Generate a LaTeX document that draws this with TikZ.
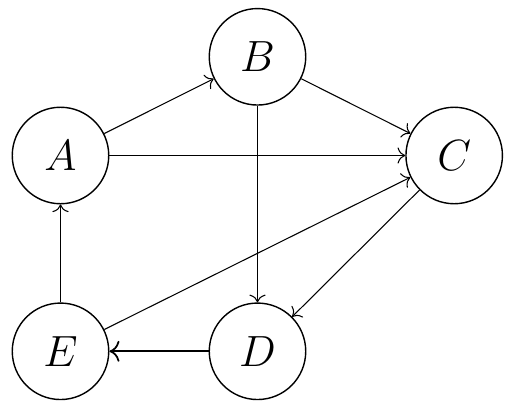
\documentclass[tikz,border=0pt]{standalone}
\usetikzlibrary{arrows.meta}
\begin{document}
\begin{tikzpicture}[x=0.02cm,y=-0.02cm,
  vtx/.style={circle,draw,line width=0.8pt,minimum size=1.93cm,inner sep=0pt,font=\Huge},
  edge/.style={-{To[scale=1.5]},line width=0.6pt}]
\useasboundingbox (0,0) rectangle (512,409);
\node[vtx] (A) at (60.5,155.5) {$A$};
\node[vtx] (B) at (257.5,56.8) {$B$};
\node[vtx] (C) at (454.2,155.5) {$C$};
\node[vtx] (D) at (257.5,351.3) {$D$};
\node[vtx] (E) at (60.5,351.3) {$E$};
\draw[edge] (A) -- (B);
\draw[edge] (A) -- (C);
\draw[edge] (B) -- (C);
\draw[edge] (B) -- (D);
\draw[edge] (C) -- (D);
\draw[edge] (E) -- (C);
\draw[edge,line width=1pt] (D) -- (E);
\draw[edge] (E) -- (A);
\end{tikzpicture}
\end{document}
